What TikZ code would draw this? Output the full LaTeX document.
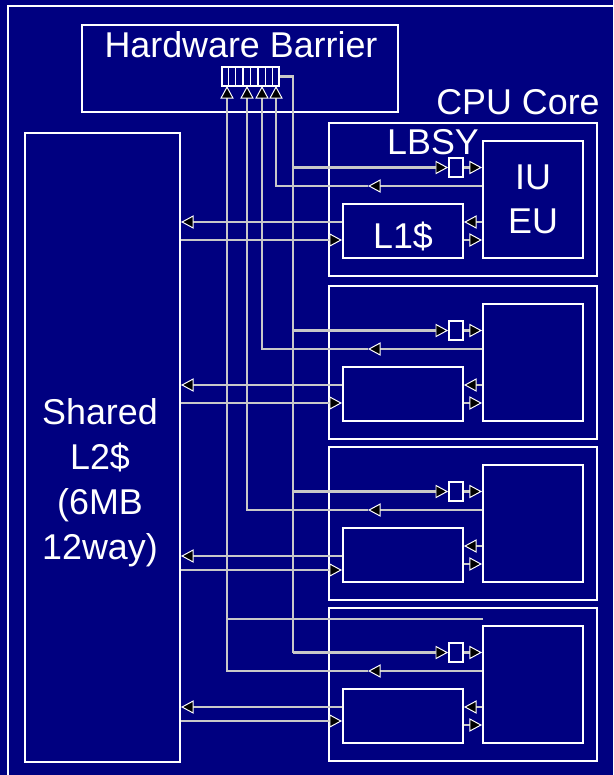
\documentclass[tikz,border=0pt]{standalone}
\usepackage{fontspec}
\setmainfont{Liberation Sans}
\usepackage{tikz}
\usetikzlibrary{arrows.meta, positioning, calc}

\definecolor{slidebg}{RGB}{0,0,128}
\definecolor{wirecol}{RGB}{200,200,200}
\newcommand{\pxu}{0.025cm}
\newcommand{\slidefont}{\fontsize{25.5}{31}\selectfont}

\begin{document}
\begin{tikzpicture}[
    x=0.025cm, y=-0.025cm,
    box/.style={rectangle, draw=white, line width=1.4pt, inner sep=0pt, text=white, font=\slidefont, align=center},
    txt/.style={text=white, font=\slidefont, align=center, inner sep=0pt},
    wire/.style={draw=wirecol, line width=1.6pt},
    arrow/.style={wire, -{Triangle[length=9pt, width=9.5pt, color=white, fill=black, line width=0.7pt]}}
]
\fill[slidebg] (0,0) rectangle (613,775);
\clip (0,0) rectangle (613,775);
\draw[white, line width=1.2pt] (8,6) rectangle (640,800);

% barrier and shared cache
\node[box, minimum width=316*\pxu, minimum height=87*\pxu] (hb) at (240,68.5) {};
\node[txt] (hbtxt) at (241,45) {Hardware Barrier};
\node[box, fill=slidebg, line width=1.3pt, minimum width=57*\pxu, minimum height=19*\pxu] (reg) at (250.5,76.5) {};
\foreach \k in {1,...,7}
  \draw[white, line width=1pt] ($(reg.south west)!\k/8!(reg.south east)$) -- ($(reg.north west)!\k/8!(reg.north east)$);
\node[box, minimum width=155*\pxu, minimum height=629*\pxu] (l2) at (102.5,447.5) {};
\node[txt, font=\fontsize{25.5}{32}\selectfont] (l2txt) at (100,483) {Shared\\L2\$\\(6MB\\12way)};
\node[txt] (cpulbl) at (518,102) {CPU Core};
\node[txt] (lbsylbl) at (433,142) {LBSY};

\coordinate (bus) at (293,76.5);

% four cores
\foreach \i/\y/\ya/\yb/\xin in {1/123/99/117/276, 2/286/99/117/262, 3/447/109/123/247, 4/608/99/113/227} {
  \node[box, minimum width=268*\pxu, minimum height=153*\pxu] (core\i) at (463,\y+76.5) {};
  \node[box, minimum width=100*\pxu, minimum height=117*\pxu] (iu\i) at (533,\y+76.5) {};
  \node[box, minimum width=120*\pxu, minimum height=54*\pxu] (l1\i) at (403,\y+108) {};
  \node[box, line width=1.2pt, minimum width=14*\pxu, minimum height=19*\pxu] (lb\i) at (456,\y+44.5) {};
  \coordinate (ret\i) at (368,\y+63);
  \coordinate (in\i) at (\xin,86);
  \draw[arrow] (lb\i.west -| bus) -- (lb\i.west);
  \draw[arrow] (lb\i.east) -- (lb\i.east -| iu\i.west);
  \draw[arrow] (ret\i -| iu\i.west) -- (ret\i);
  \draw[arrow] (ret\i) -| (in\i);
  \draw[arrow] (iu\i.west |- 0,\y+99) -- (l1\i.east |- 0,\y+99);
  \draw[arrow] (l1\i.east |- 0,\y+117) -- (iu\i.west |- 0,\y+117);
  \draw[arrow] (l1\i.west |- 0,\y+\ya) -- (l2.east |- 0,\y+\ya);
  \draw[arrow] (l2.east |- 0,\y+\yb) -- (l1\i.west |- 0,\y+\yb);
}
\draw[wire] (reg.east) -- (bus) -- (bus |- lb4.west);
\coordinate (spur) at (483,619);
\draw[wire] (spur -| in4) -- (spur);

\node[txt] (iutxt) at (iu1) {IU\\EU};
\node[txt] (l1txt) at ([yshift=-5*\pxu]l11.center) {L1\$};
\end{tikzpicture}
\end{document}
